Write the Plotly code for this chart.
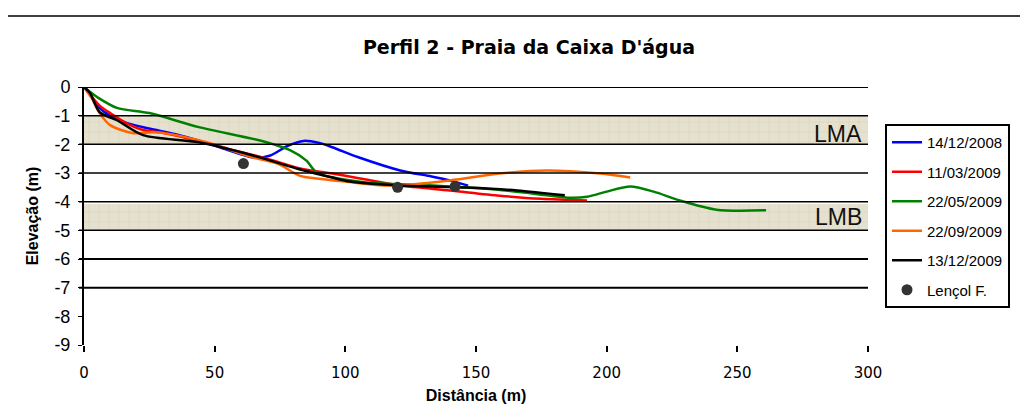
import plotly.graph_objects as go

# ---- data ----
blue_x = [0, 3, 6, 10, 16.5, 25, 35, 45, 55, 64.7, 71, 78, 84, 90, 95, 105, 121, 133, 140, 147]
blue_y = [0, -0.35, -0.74, -1.0, -1.26, -1.45, -1.65, -1.9, -2.2, -2.46, -2.4, -2.05, -1.88, -1.95, -2.1, -2.45, -2.91, -3.12, -3.26, -3.44]

red_x = [0, 3, 6, 10, 16, 22.6, 29, 40, 55, 70, 82.7, 95, 105.6, 121, 140, 159, 175, 192.5]
red_y = [0, -0.35, -0.65, -0.91, -1.25, -1.5, -1.58, -1.8, -2.15, -2.5, -2.84, -3.02, -3.19, -3.44, -3.61, -3.79, -3.9, -3.96]

green_x = [0, 2, 5, 12.6, 25, 44, 67, 79, 85, 89, 95, 108, 133.6, 160, 172, 185, 192.5, 200, 209, 218, 228, 242, 261]
green_y = [0, -0.15, -0.35, -0.73, -0.91, -1.4, -1.86, -2.21, -2.56, -2.98, -3.15, -3.33, -3.44, -3.6, -3.72, -3.86, -3.83, -3.65, -3.47, -3.65, -3.96, -4.28, -4.3]

orange_x = [0, 3, 6, 10, 18.8, 26, 30, 47, 64.7, 74, 82.7, 89, 100, 117, 140, 159, 177, 197.5, 209]
orange_y = [0, -0.4, -0.91, -1.33, -1.61, -1.58, -1.6, -1.93, -2.46, -2.67, -3.1, -3.19, -3.3, -3.44, -3.26, -3.02, -2.91, -3.02, -3.16]

black_x = [0, 2.3, 6, 12.6, 22.6, 44, 64.7, 82.7, 95, 101.8, 121, 146.5, 165.7, 184]
black_y = [0, -0.21, -0.88, -1.16, -1.68, -1.93, -2.39, -2.88, -3.16, -3.3, -3.44, -3.51, -3.61, -3.78]

lencol_x = [61, 120, 142]
lencol_y = [-2.67, -3.5, -3.47]

series_names = ["14/12/2008", "11/03/2009", "22/05/2009", "22/09/2009", "13/12/2009"]
series_x = [blue_x, red_x, green_x, orange_x, black_x]
series_y = [blue_y, red_y, green_y, orange_y, black_y]
series_colors = ["#0000ff", "#ff0000", "#008000", "#ff6600", "#000000"]

band_labels = ["LMA", "LMB"]
band_top = [-1.0, -4.08]
band_bottom = [-2.0, -5.0]
band_label_shift = [-4, 0]

grid_levels = [0, -1, -2, -3, -4, -5, -6, -7]
x_ticks = [0, 50, 100, 150, 200, 250, 300]
y_ticks = [0, -1, -2, -3, -4, -5, -6, -7, -8, -9]
y_tick_labels = ["0", "-1", "-2", "-3", "-4", "-5", "-6", "-7", "-8", "-9"]

x_min, x_max = 0, 300
y_min, y_max = -9, 0

# page body has an 8px offset; layout pixel positions below account for it
OFF = 8
W, H = 1028, 416
L, T = 84 - OFF, 87 - OFF
PW, PH = 784, 258
R = W - L - PW
B = H - T - PH

fig = go.Figure()

# bands
for lab, top, bot, ys in zip(band_labels, band_top, band_bottom, band_label_shift):
    fig.add_trace(go.Scatter(
        x=[x_min, x_max, x_max, x_min, x_min], y=[top, top, bot, bot, top],
        mode="lines", line=dict(width=0), fill="toself",
        fillcolor="#e4dfcb",
        fillpattern=dict(shape="+", bgcolor="#e6e1ce", fgcolor="#d2cbae", size=10, solidity=0.15),
        showlegend=False, hoverinfo="skip"))
    fig.add_annotation(x=x_max, y=(top + bot) / 2, xref="x", yref="y", text=lab,
                       showarrow=False, xanchor="right", yanchor="middle", xshift=-4, yshift=ys,
                       font=dict(family="Liberation Sans, Arial", size=23, color="#111"))

# grid lines
for g in grid_levels:
    fig.add_shape(type="line", xref="paper", yref="y", x0=-5 / PW, x1=1, y0=g, y1=g,
                  line=dict(color="black", width=2 if g in (0, -6, -7) else 1.5), layer="above")

for name, xs, ys, col in zip(series_names, series_x, series_y, series_colors):
    fig.add_trace(go.Scatter(x=xs, y=ys, mode="lines", name=name, legendgroup=name,
                             line=dict(color=col, width=2.5, shape="spline", smoothing=0.8)))

fig.add_trace(go.Scatter(x=lencol_x, y=lencol_y, mode="markers", name="Lençol F.", legendgroup="lencol",
                         marker=dict(color="#333333", size=11)))

# top frame line
fig.add_shape(type="line", xref="paper", yref="paper",
              x0=-L / PW, x1=(W - L) / PW, y0=(T + PH - (16 - OFF)) / PH, y1=(T + PH - (16 - OFF)) / PH,
              line=dict(color="black", width=1.5))

fig.update_layout(
    width=W, height=H,
    margin=dict(l=L, r=R, t=T, b=B, autoexpand=False),
    plot_bgcolor="white", paper_bgcolor="white",
    font=dict(family="Liberation Sans, Arial", size=17, color="black"),
    title=dict(text="<b>Perfil 2 - Praia da Caixa D'água</b>", x=(529 - OFF) / W, xanchor="center",
               xref="container", y=1 - (47 - OFF) / H, yref="container", yanchor="middle",
               font=dict(size=19, family="DejaVu Sans")),
    xaxis=dict(range=[x_min, x_max], tickvals=x_ticks, showgrid=False, zeroline=False,
               showline=False, ticks="outside", ticklen=6, tickwidth=1.5, tickcolor="black",
               ticklabelstandoff=8, tickfont=dict(size=15, family="DejaVu Sans"),
               title=dict(text="<b>Distância (m)</b>", font=dict(size=16), standoff=8)),
    yaxis=dict(range=[y_min, y_max], tickvals=y_ticks, ticktext=y_tick_labels, showgrid=False,
               zeroline=False, showline=True, linecolor="black", linewidth=2, ticks="outside",
               ticklen=4, tickcolor="black", tickfont=dict(size=18), ticklabelstandoff=4,
               title=dict(text="<b>Elevação (m)</b>", font=dict(size=16), standoff=12)),
    legend=dict(xref="container", yref="container", x=(885 - OFF) / W, y=1 - (124 - OFF) / H,
                xanchor="left", yanchor="top", bordercolor="black", borderwidth=2,
                bgcolor="white", font=dict(size=15),
                tracegroupgap=7, itemwidth=30),
    showlegend=True,
)

fig.write_html("out.html")
